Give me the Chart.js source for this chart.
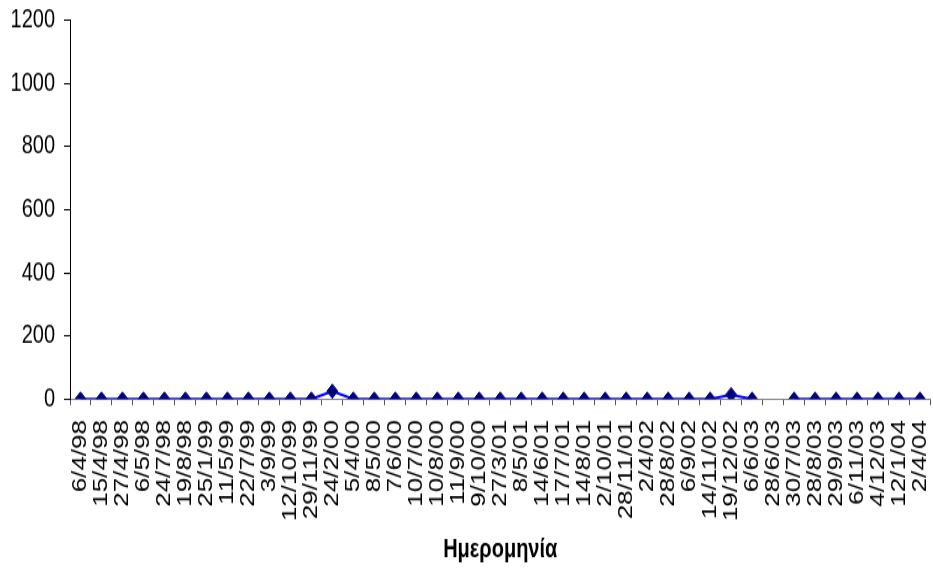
<!DOCTYPE html>
<html>
<head>
<meta charset="utf-8">
<script src="https://cdn.jsdelivr.net/npm/chart.js@4/dist/chart.umd.min.js"></script>
<style>
  body { margin: 0; background: #fff; }
  #wrap { width: 933px; height: 574px; overflow: hidden; }
  /* the chart is drawn short and stretched vertically to the page height */
  #myChart { transform: scaleY(1.29864); transform-origin: 0 0; }
</style>
</head>
<body>
<div id="wrap">
  <canvas id="myChart" width="933" height="442"></canvas>
</div>
<script>
const dates = [
  "6/4/98", "15/4/98", "27/4/98", "6/5/98", "24/7/98", "19/8/98", "25/1/99",
  "11/5/99", "22/7/99", "3/9/99", "12/10/99", "29/11/99", "24/2/00", "5/4/00",
  "8/5/00", "7/6/00", "10/7/00", "10/8/00", "11/9/00", "9/10/00", "27/3/01",
  "8/5/01", "14/6/01", "17/7/01", "14/8/01", "2/10/01", "28/11/01", "2/4/02",
  "28/8/02", "6/9/02", "14/11/02", "19/12/02", "6/6/03", "28/6/03", "30/7/03",
  "28/8/03", "29/9/03", "6/11/03", "4/12/03", "12/1/04", "2/4/04",
];
const values = [
  0, 0, 0, 0, 0, 0, 0,
  0, 0, 0, 0, 0, 25, 0,
  0, 0, 0, 0, 0, 0, 0,
  0, 0, 0, 0, 0, 0, 0,
  0, 0, 0, 14, 0, null, 0,
  0, 0, 0, 0, 0, 0,
];
const yTicks = [0, 200, 400, 600, 800, 1000, 1200];
const xTitle = "Ημερομηνία";

const fontFamily = "'Liberation Sans', Arial, sans-serif";

const ctx = document.getElementById("myChart");
// eslint-disable-next-line no-undef
new Chart(ctx, {
  type: "line",
  data: {
    labels: dates,
    datasets: [
      {
        data: values,
        borderColor: "#0000ff",
        borderWidth: 2,
        tension: 0,
        spanGaps: false,
        pointStyle: "rectRot",
        pointRadius: 5.5,
        pointBorderWidth: 1,
        pointBackgroundColor: "#000080",
        pointBorderColor: "#000080",
      },
    ],
  },
  options: {
    responsive: false,
    animation: false,
    devicePixelRatio: 1,
    layout: {
      autoPadding: false,
      padding: { top: 15.4, right: 2.5, left: 0, bottom: 0 },
    },
    plugins: {
      legend: { display: false },
      tooltip: { enabled: false },
    },
    scales: {
      x: {
        offset: true,
        grid: {
          offset: true,
          drawOnChartArea: false,
          tickLength: 4.6,
          tickColor: "#555",
        },
        border: { color: "#808080", width: 1 },
        ticks: {
          autoSkip: false,
          minRotation: 90,
          maxRotation: 90,
          padding: 11.5,
          color: "#000",
          font: { family: fontFamily, size: 20 },
        },
        title: {
          display: true,
          text: xTitle,
          color: "#000",
          font: { family: fontFamily, size: 20, weight: "bold" },
          padding: { top: 4, bottom: 6.5 },
        },
        afterFit(scale) {
          scale.height = 134.7;
          scale.paddingLeft = 0;
          scale.paddingRight = 0;
        },
      },
      y: {
        min: 0,
        max: 1200,
        afterBuildTicks(scale) {
          scale.ticks = yTicks.map((v) => ({ value: v }));
        },
        grid: {
          drawOnChartArea: false,
          tickLength: 6,
          tickColor: "#000",
        },
        border: { color: "#000", width: 1 },
        ticks: {
          padding: 9,
          color: "#000",
          font: { family: fontFamily, size: 20 },
          callback: (v) => String(v),
        },
        afterFit(scale) {
          scale.width = 70;
          scale.paddingTop = 0;
          scale.paddingBottom = 0;
        },
      },
    },
  },
});
</script>
</body>
</html>
